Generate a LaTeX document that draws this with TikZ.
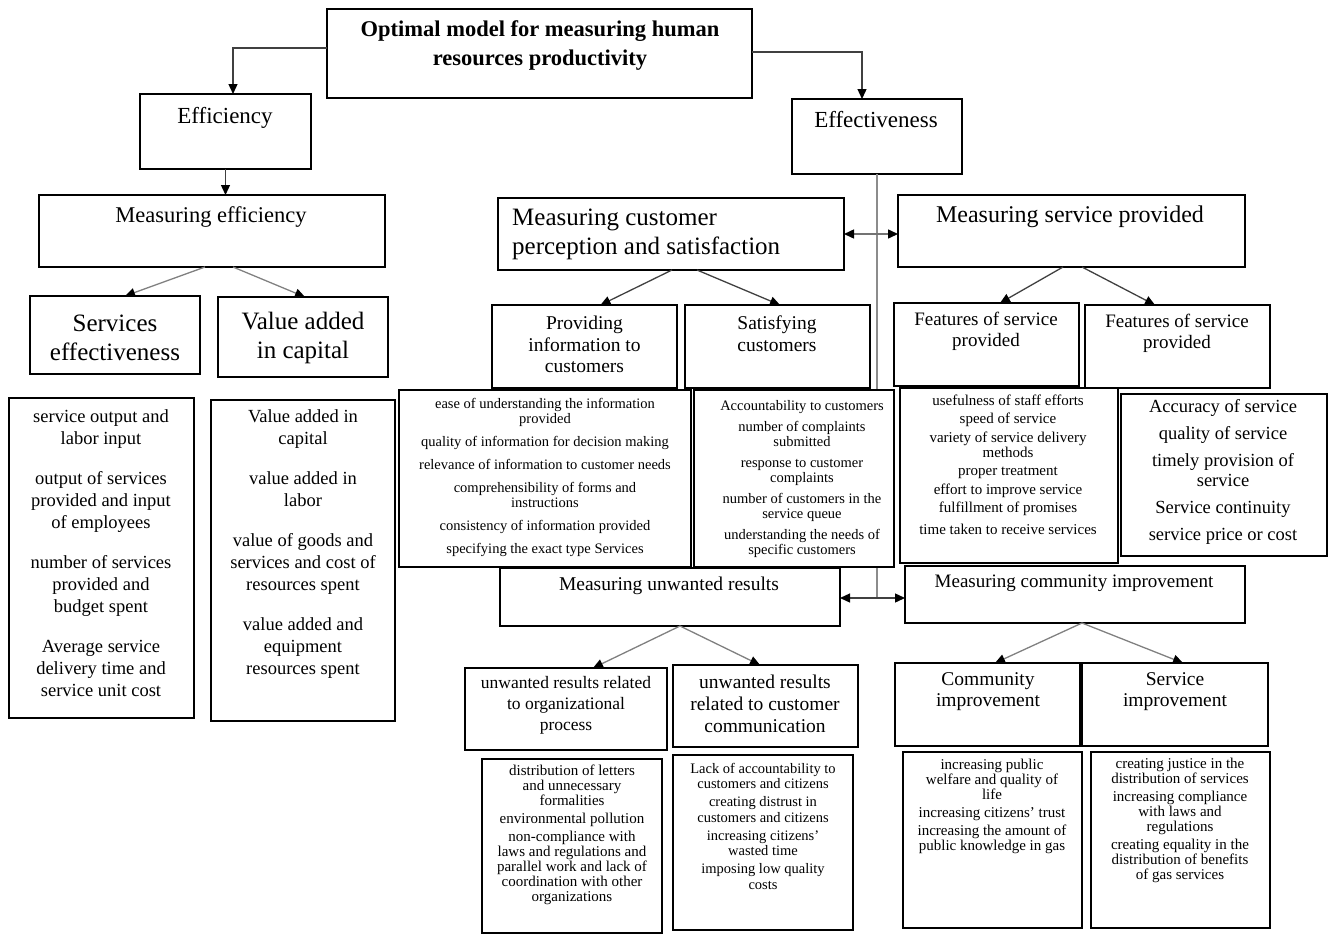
\documentclass[tikz,border=0pt]{standalone}
\usepackage{fontspec}
\setmainfont{Liberation Serif}
\usetikzlibrary{arrows.meta}
\newcommand\mybox[5]{\node[box, minimum width={#4-#2}, minimum height={#5-#3}] (#1) at ({(#2+#4)/2},{(#3+#5)/2}) {};}
\newcommand\mytext[5]{\node[txt, font=\fontsize{#3}{#4}\selectfont] (#1) at (#2) {#5};}
\tikzset{
  box/.style={draw=black, line width=1.3pt, inner sep=0pt, outer sep=0pt, fill=white},
  txt/.style={inner sep=0pt, align=center},
  conn/.style={draw=black!75, line width=1.3pt, -{Triangle[length=10pt,width=9pt,color=black]}},
  lconn/.style={draw=black!50, line width=1.3pt, -{Triangle[length=10pt,width=9pt,color=black]}},
  dconn/.style={draw=black!55, line width=1.5pt, {Triangle[length=10pt,width=9pt,color=black]}-{Triangle[length=10pt,width=9pt,color=black]}},
  vline/.style={draw=black!45, line width=2pt}
}
\begin{document}
\begin{tikzpicture}[x=1pt,y=-1pt]
\useasboundingbox (0,0) rectangle (1330,934);
% effectiveness box first (needed for vertical line)
\mybox{effv}{792}{99}{962}{174}
\coordinate (junc) at (877,598);
\draw[vline] (effv.south) -- (junc);
% boxes
\mybox{title}{327}{9}{752}{98}
\mybox{eff}{140}{94}{311}{169}
\mybox{meff}{39}{195}{385}{267}
\mybox{serv}{30}{296}{200}{374}
\mybox{vadd}{218}{297}{388}{377}
\mybox{listA}{9}{398}{194}{718}
\mybox{listB}{211}{400}{395}{721}
\mybox{cust}{498}{198}{844}{270}
\mybox{servprov}{898}{195}{1245}{267}
\mybox{prov}{492}{305}{677}{388}
\mybox{satis}{685}{305}{870}{388}
\mybox{infolist}{399}{390}{691}{567}
\mybox{satlist}{694}{390}{894}{567}
\mybox{featA}{894}{303}{1079}{386}
\mybox{featB}{1085}{305}{1270}{388}
\mybox{featlistA}{900}{388}{1118}{563}
\mybox{featlistB}{1121}{394}{1327}{556}
\mybox{unw}{500}{568}{840}{626}
\mybox{comm}{905}{566}{1245}{623}
\mybox{org}{465}{668}{667}{750}
\mybox{ccomm}{673}{665}{858}{747}
\mybox{orglist}{482}{759}{662}{933}
\mybox{ccommlist}{673}{755}{853}{930}
\mybox{cimp}{895}{663}{1080}{746}
\mybox{simp}{1082}{663}{1268}{746}
\mybox{cimplist}{903}{752}{1082}{928}
\mybox{simplist}{1091}{752}{1270}{928}
% texts
\node[txt, font=\bfseries\fontsize{22.5}{29}\selectfont] (ttitle) at (540,45.5) {Optimal model for measuring human\\resources productivity};
\mytext{teff}{225,118}{23}{27}{Efficiency}
\mytext{teffv}{876,120}{23}{27}{Effectiveness}
\mytext{tmeff}{211,217}{22.5}{26}{Measuring efficiency}
\mytext{tserv}{115,337.5}{25}{29}{Services\\effectiveness}
\mytext{tvadd}{303,337.5}{25}{29}{Value added\\in capital}
\mytext{tlistA}{101,553.5}{18.5}{22}{service output and\\labor input\\[18pt]output of services\\provided and input\\of employees\\[18pt]number of services\\provided and\\budget spent\\[18pt]Average service\\delivery time and\\service unit cost}
\mytext{tlistB}{303,544}{18.5}{22}{Value added in\\capital\\[18pt]value added in\\labor\\[18pt]value of goods and\\services and cost of\\resources spent\\[18pt]value added and\\equipment\\resources spent}
\node[txt, align=left, anchor=west, font=\fontsize{25}{29}\selectfont] (tcust) at (512,234.5) {Measuring customer\\perception and satisfaction};
\mytext{tservprov}{1070,217}{24}{28}{Measuring service provided}
\mytext{tprov}{584.5,344.5}{19.5}{21.5}{Providing\\information to\\customers}
\mytext{tsatis}{777,333.5}{19.5}{21.5}{Satisfying\\customers}
\mytext{tinfolist}{545,477.5}{14.5}{15}{ease of understanding the information\\provided\\[8pt]quality of information for decision making\\[8pt]relevance of information to customer needs\\[8pt]comprehensibility of forms and\\instructions\\[8pt]consistency of information provided\\[8pt]specifying the exact type Services}
\mytext{tsatlist}{802,479.5}{14.5}{15.5}{Accountability to customers\\[5pt]number of complaints\\submitted\\[5pt]response to customer\\complaints\\[5pt]number of customers in the\\service queue\\[5pt]understanding the needs of\\specific customers}
\mytext{tfeatA}{986,331.5}{19}{21}{Features of service\\provided}
\mytext{tfeatB}{1177,333.5}{19}{21}{Features of service\\provided}
\mytext{tfeatlistA}{1008,465}{15}{15}{usefulness of staff efforts\\[3.5pt]speed of service\\[3.5pt]variety of service delivery\\methods\\[3.5pt]proper treatment\\[3.5pt]effort to improve service\\[3.5pt]fulfillment of promises\\[7pt]time taken to receive services}
\mytext{tfeatlistB}{1223,472}{18.5}{20}{Accuracy of service\\[7pt]quality of service\\[7pt]timely provision of\\service\\[7pt]Service continuity\\[7pt]service price or cost}
\mytext{tunw}{669,586}{19.5}{22}{Measuring unwanted results}
\mytext{tcomm}{1074,583}{19}{22}{Measuring community improvement}
\mytext{torg}{566,705}{17.5}{21}{unwanted results related\\to organizational\\process}
\mytext{tccomm}{765,704}{19.5}{22}{unwanted results\\related to customer\\communication}
\mytext{torglist}{572,834.5}{15}{15}{distribution of letters\\and unnecessary\\formalities\\[3pt]environmental pollution\\[3pt]non-compliance with\\laws and regulations and\\parallel work and lack of\\coordination with other\\organizations}
\mytext{tccommlist}{763,826}{14.5}{15.5}{Lack of accountability to\\customers and citizens\\[2.5pt]creating distrust in\\customers and citizens\\[2.5pt]increasing citizens'\\wasted time\\[2.5pt]imposing low quality\\costs}
\mytext{tcimp}{988,691.5}{19.5}{21}{Community\\improvement}
\mytext{tsimp}{1175,691.5}{19.5}{21}{Service\\improvement}
\mytext{tcimplist}{992,806.5}{15}{15}{increasing public\\welfare and quality of\\life\\[3pt]increasing citizens' trust\\[3pt]increasing the amount of\\public knowledge in gas}
\mytext{tsimplist}{1180,820.5}{15}{15}{creating justice in the\\distribution of services\\[3pt]increasing compliance\\with laws and\\regulations\\[3pt]creating equality in the\\distribution of benefits\\of gas services}
% connectors
\draw[conn] ([yshift=5.5pt]title.west) -| ([xshift=7.5pt]eff.north);
\draw[conn] ([yshift=1.5pt]title.east) -| ([xshift=-15pt]effv.north);
\draw[conn] (eff.south) -- (eff.south |- meff.north);
\draw[lconn] ([xshift=-7pt]meff.south) -- ([xshift=10pt]serv.north);
\draw[lconn] ([xshift=21pt]meff.south) -- ([xshift=2pt]vadd.north);
\draw[dconn] (cust.east) -- (cust.east -| servprov.west);
\draw[conn] ([xshift=1pt]cust.south) -- ([xshift=16pt]prov.north);
\draw[conn] ([xshift=26pt]cust.south) -- ([xshift=2.5pt]satis.north);
\draw[conn] ([xshift=-8.5pt]servprov.south) -- ([xshift=13.5pt]featA.north);
\draw[conn] ([xshift=10.5pt]servprov.south) -- ([xshift=-22.5pt]featB.north);
\draw[conn] (junc) -- (junc -| unw.east);
\draw[conn] (junc) -- (junc -| comm.west);
\draw[lconn] ([xshift=10pt]unw.south) -- ([xshift=27pt]org.north);
\draw[lconn] ([xshift=10pt]unw.south) -- ([xshift=-5.5pt]ccomm.north);
\draw[lconn] ([xshift=7pt]comm.south) -- ([xshift=7.5pt]cimp.north);
\draw[lconn] ([xshift=7pt]comm.south) -- ([xshift=8pt]simp.north);
\end{tikzpicture}
\end{document}
